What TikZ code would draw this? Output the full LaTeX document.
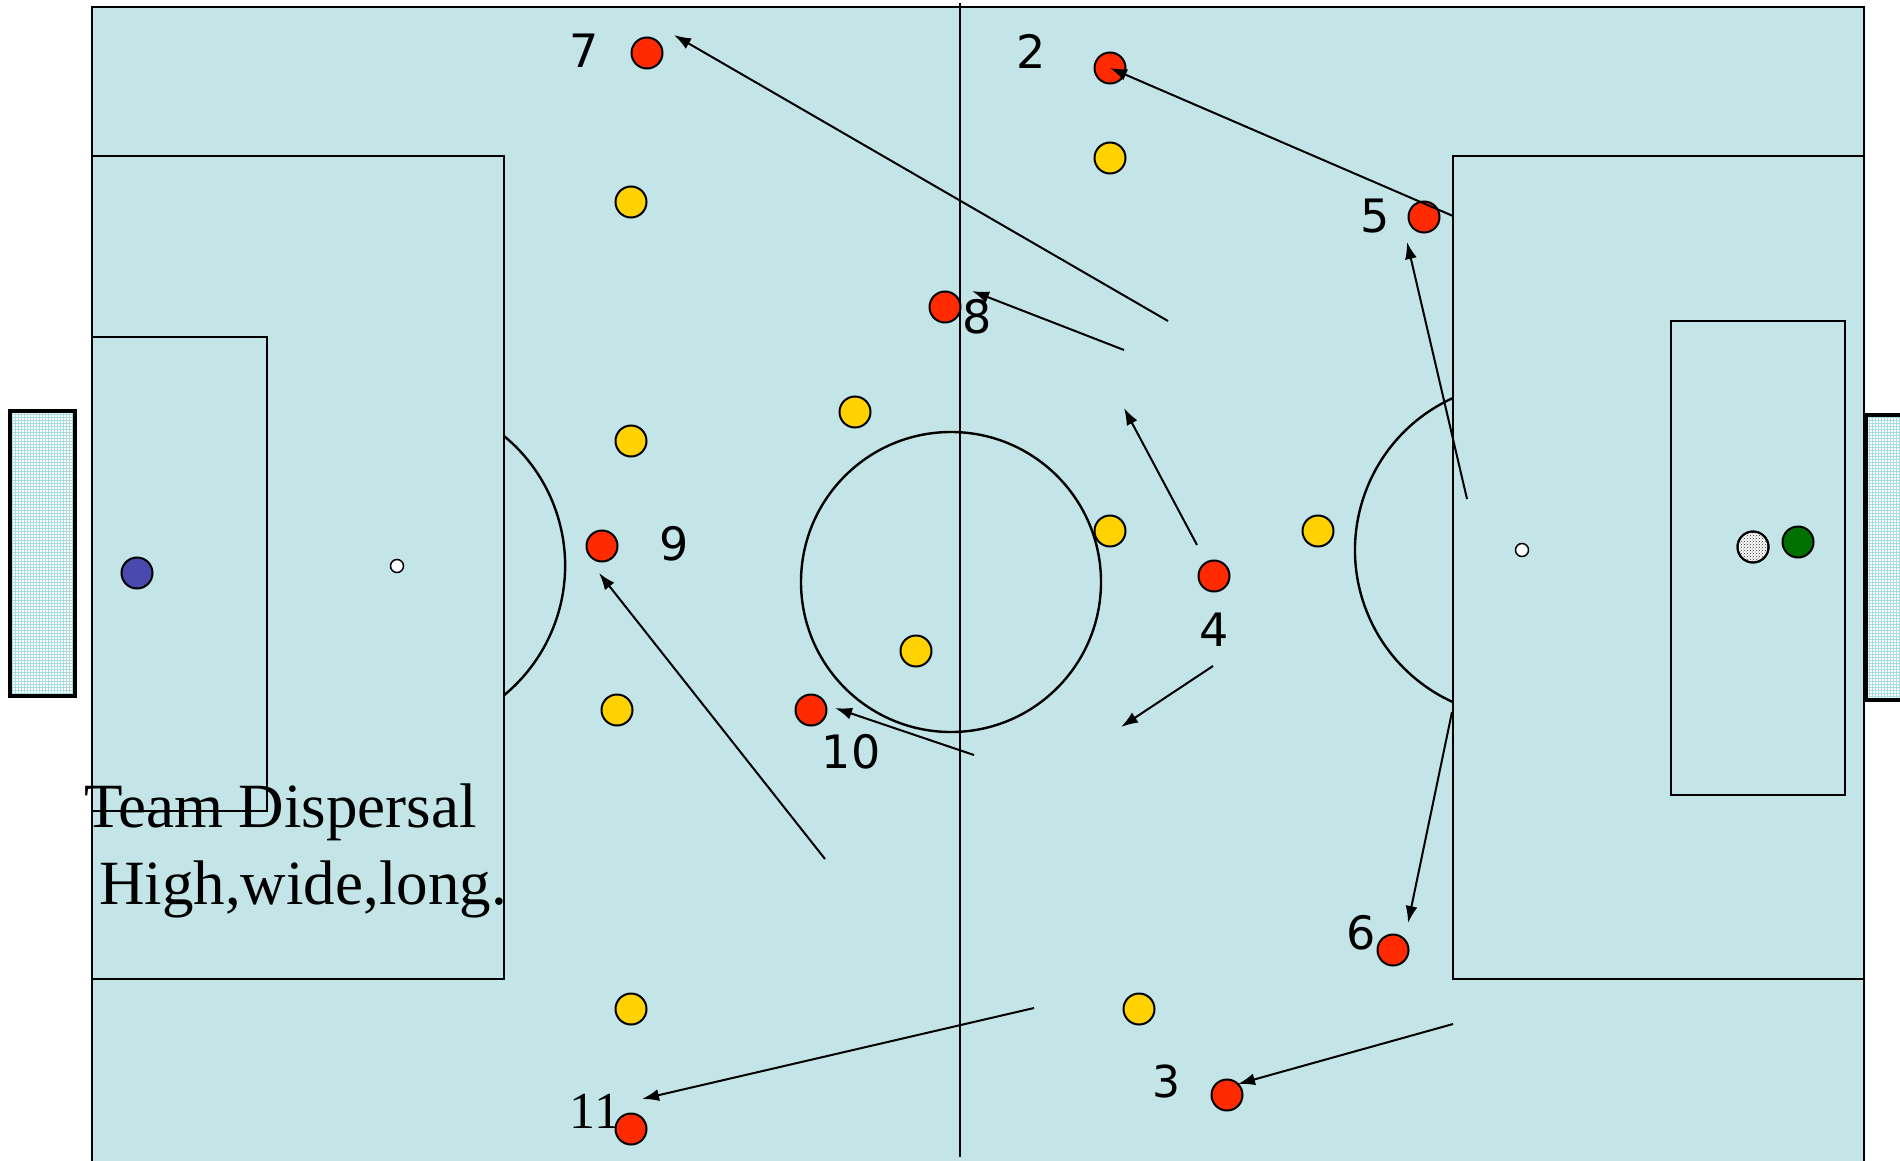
\documentclass[tikz,border=0pt]{standalone}
\usepackage{fontspec}
\setmainfont{Liberation Serif}
\newfontfamily\numfont{DejaVu Sans}
\usetikzlibrary{arrows.meta,patterns}
\definecolor{pitchc}{HTML}{C4E5E8}
\definecolor{redc}{HTML}{FF2A00}
\definecolor{yelc}{HTML}{FFD200}
\definecolor{bluec}{HTML}{4A4AAE}
\definecolor{greenc}{HTML}{007000}
\definecolor{netc}{HTML}{A8DCE0}
\begin{document}
\begin{tikzpicture}[x=1pt,y=-1pt,
  pline/.style={line width=2.4pt},
  playerbase/.style={circle,draw,line width=2pt,minimum size=31pt,inner sep=0pt},
  redpl/.style={playerbase,fill=redc},
  yelpl/.style={playerbase,fill=yelc},
  spot/.style={circle,draw,fill=white,line width=1.5pt,minimum size=13pt,inner sep=0pt},
  num/.style={font=\numfont\fontsize{46}{46}\selectfont,inner sep=0pt},
  mv/.style={line width=2pt,-{Latex[length=17pt,width=12pt]}},
  netbox/.style={line width=3.2pt}
]
\useasboundingbox (0,0) rectangle (1900,1161);
% pitch
\fill[pitchc] (92,7) rectangle (1864,1161);
% nets
\fill[white] (10,411) rectangle (75,696);
\fill[pattern=grid,pattern color=netc] (10,411) rectangle (75,696);
\draw[netbox] (10,411) rectangle (75,696);
\fill[white] (1866,415) rectangle (1910,700);
\fill[pattern=grid,pattern color=netc] (1866,415) rectangle (1910,700);
\draw[netbox] (1866,415) rectangle (1910,700);
% lines
\draw[pline] (92,1165) -- (92,7) -- (1864,7) -- (1864,1165);
\draw[pline] (960,3) -- (960,1157);
\draw[pline] (951,582) circle (150);
\draw[pline] (92,156) -- (504,156) -- (504,979) -- (92,979);
\draw[pline] (92,337) -- (267,337) -- (267,811) -- (92,811);
\draw[pline] (504,436) arc[start angle=-50.5,end angle=50.5,radius=168];
\draw[pline] (1864,156) -- (1453,156) -- (1453,979) -- (1864,979);
\draw[pline] (1671,321) rectangle (1845,795);
\draw[pline] (1453,398) arc[start angle=245.6,end angle=114.4,radius=167];
\node[spot] (spotL) at (397,566) {};
\node[spot] (spotR) at (1522,550) {};
% text
\node[anchor=base west,inner sep=0pt,font=\fontsize{63}{63}\selectfont] (t1) at (84,827) {Team Dispersal};
\node[anchor=base west,inner sep=0pt,font=\fontsize{63}{63}\selectfont] (t2) at (99,904) {High,wide,long.};
\draw[pline] (92,811) -- (267,811);
% keepers and ball
\node[playerbase,fill=bluec] (gkL) at (137,573) {};
\node[playerbase,fill=greenc] (gkR) at (1798,542) {};
\node[playerbase,fill=white] (ball) at (1753,547) {};
\fill[pattern=crosshatch dots,pattern color=black!85] (ball) circle (14);
\draw[line width=2pt] (ball) circle (15.5);
% yellow
\node[yelpl] (y1) at (631,202) {};
\node[yelpl] (y2) at (1110,158) {};
\node[yelpl] (y3) at (855,412) {};
\node[yelpl] (y4) at (631,441) {};
\node[yelpl] (y5) at (1110,531) {};
\node[yelpl] (y6) at (1318,531) {};
\node[yelpl] (y7) at (916,651) {};
\node[yelpl] (y8) at (617,710) {};
\node[yelpl] (y9) at (631,1009) {};
\node[yelpl] (y10) at (1139,1009) {};
% red
\node[redpl] (r7) at (647,53) {};
\node[redpl] (r2) at (1110,68) {};
\node[redpl] (r5) at (1424,217) {};
\node[redpl] (r8) at (945,307) {};
\node[redpl] (r9) at (602,546) {};
\node[redpl] (r4) at (1214,576) {};
\node[redpl] (r10) at (811,710) {};
\node[redpl] (r6) at (1393,950) {};
\node[redpl] (r3) at (1227,1095) {};
\node[redpl] (r11) at (631,1129) {};
% numbers
\node[num] (n7) at (584,51) {7};
\node[num] (n2) at (1031,51) {2};
\node[num] (n5) at (1375,216) {5};
\node[num] (n8) at (977,317) {8};
\node[num] (n9) at (674,544) {9};
\node[num] (n4) at (1214,630) {4};
\node[num] (n10) at (851,752) {10};
\node[num] (n6) at (1361,933) {6};
\node[num,font=\numfont\fontsize{44}{44}\selectfont] (n3) at (1166,1081) {3};
\node[inner sep=0pt,font=\fontsize{52}{52}\selectfont] (n11) at (595,1111) {11};
% movement arrows
\coordinate (s1) at (1168,321); \coordinate (e1) at (674,35);
\coordinate (s2) at (1453,216);
\coordinate (s3) at (1124,350); \coordinate (e3) at (972,291);
\coordinate (s4) at (1197,545); \coordinate (e4) at (1124,408);
\coordinate (s5) at (1467,499); \coordinate (e5) at (1407,242);
\coordinate (s6) at (1213,666); \coordinate (e6) at (1121,727);
\coordinate (s7) at (1452,712); \coordinate (e7) at (1408,923);
\coordinate (s8) at (974,755); \coordinate (e8) at (835,708);
\coordinate (s9) at (825,859); \coordinate (e9) at (599,573);
\coordinate (s10) at (1034,1008); \coordinate (e10) at (642,1099);
\coordinate (s11) at (1453,1024); \coordinate (e11) at (1238,1084);
\draw[mv] (s1) -- (e1);
\draw[mv] (s2) -- (r2.center);
\draw[mv] (s3) -- (e3);
\draw[mv] (s4) -- (e4);
\draw[mv] (s5) -- (e5);
\draw[mv] (s6) -- (e6);
\draw[mv] (s7) -- (e7);
\draw[mv] (s8) -- (e8);
\draw[mv] (s9) -- (e9);
\draw[mv] (s10) -- (e10);
\draw[mv] (s11) -- (e11);
\end{tikzpicture}
\end{document}
